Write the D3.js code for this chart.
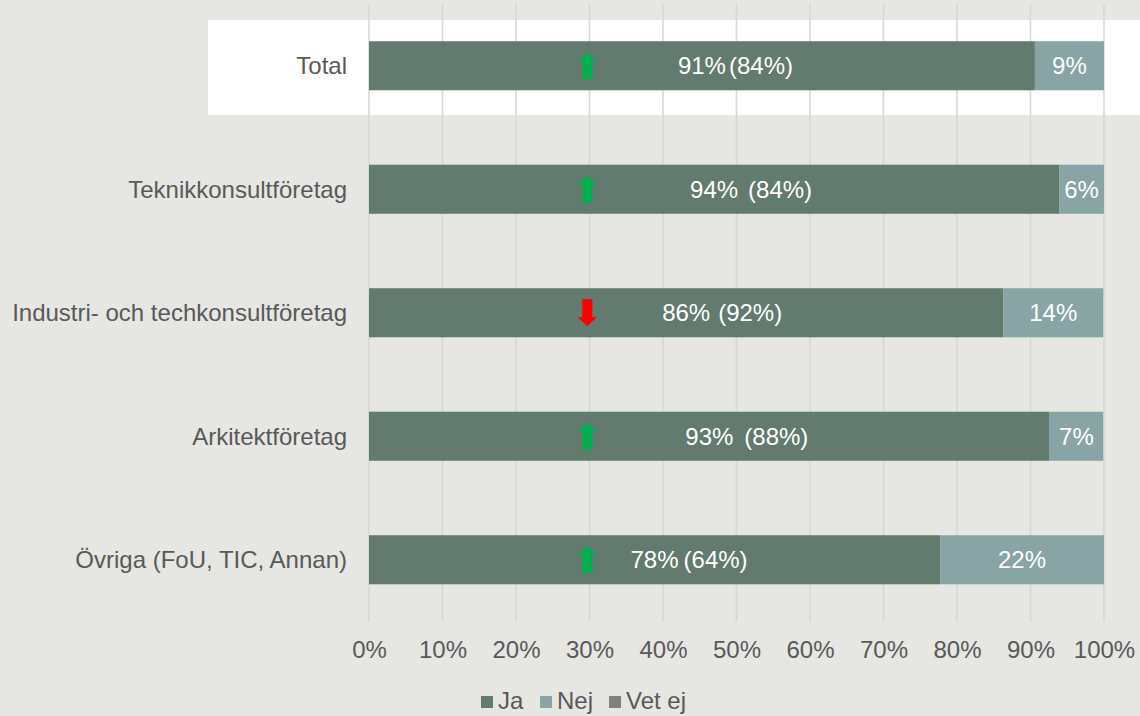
<!DOCTYPE html>
<html>
<head>
<meta charset="utf-8">
<script src="https://cdn.jsdelivr.net/npm/d3@7"></script>
<style>
  html, body { margin: 0; padding: 0; background: #e6e6e2; }
  svg { display: block; }
  text { font-family: "Liberation Sans", Arial, sans-serif; }
</style>
</head>
<body>
<svg id="chart" width="1140" height="716"></svg>
<script>
// ---- data ----
const categories = ["Total", "Teknikkonsultföretag", "Industri- och techkonsultföretag", "Arkitektföretag", "Övriga (FoU, TIC, Annan)"];
const seriesNames = ["Ja", "Nej", "Vet ej"];
const jaValues = [90.6, 93.9, 86.3, 92.6, 77.7];
const nejValues = [9.4, 6.1, 13.6, 7.3, 22.3];
const vetEjValues = [0, 0, 0, 0, 0];
const jaLabels = ["91%", "94%", "86%", "93%", "78%"];
const nejLabels = ["9%", "6%", "14%", "7%", "22%"];
const previousLabels = ["(84%)", "(84%)", "(92%)", "(88%)", "(64%)"];
const trend = ["up", "up", "down", "up", "up"];
const xTicks = [0, 10, 20, 30, 40, 50, 60, 70, 80, 90, 100];

// ---- layout ----
const colors = { "Ja": "#637a6f", "Nej": "#88a4a4", "Vet ej": "#808080" };
const textGrey = "#595959";
const fontSize = 24;
const prevGaps = [3, 10, 8, 11, 5];
const arrowAt = 29.7;

const svg = d3.select("#chart");
const x = d3.scaleLinear().domain([0, 100]).range([369, 1104]);
const y = d3.scaleBand().domain(categories).range([4, 621.5]).paddingInner(0.603).paddingOuter(0.3015);

// white highlight box behind Total row
svg.append("rect").attr("x", 208).attr("y", 20).attr("width", 932).attr("height", 95).attr("fill", "#ffffff");

// gridlines
svg.append("g").selectAll("line").data(xTicks).join("line")
  .attr("x1", d => x(d)).attr("x2", d => x(d))
  .attr("y1", 4).attr("y2", 621.5)
  .attr("stroke", "#d8d8d6").attr("stroke-width", 1.6);

// stacked data
const rows = categories.map((c, i) => ({ cat: c, "Ja": jaValues[i], "Nej": nejValues[i], "Vet ej": vetEjValues[i] }));
const stack = d3.stack().keys(seriesNames)(rows);

svg.append("g").selectAll("g").data(stack).join("g")
  .attr("fill", s => colors[s.key])
  .selectAll("rect").data(s => s).join("rect")
  .attr("x", d => x(d[0]))
  .attr("width", d => Math.max(0, x(d[1]) - x(d[0])))
  .attr("y", d => y(d.data.cat))
  .attr("height", y.bandwidth());

// x axis tick labels
const xAxis = d3.axisBottom(x).tickValues(xTicks).tickFormat(d => d + "%").tickSize(0).tickPadding(0);
const gx = svg.append("g").attr("transform", "translate(0,641)").call(xAxis);
gx.select(".domain").remove();
gx.selectAll("text").attr("fill", textGrey).attr("font-size", fontSize)
  .attr("font-family", '"Liberation Sans", Arial, sans-serif').attr("dy", "0.72em").attr("y", 0);

// y axis category labels
const yAxis = d3.axisLeft(y).tickSize(0).tickPadding(22);
const gy = svg.append("g").attr("transform", "translate(369,0)").call(yAxis);
gy.select(".domain").remove();
gy.selectAll("text").attr("fill", textGrey).attr("font-size", fontSize)
  .attr("font-family", '"Liberation Sans", Arial, sans-serif').attr("dy", "0.35em");

// labels in bars
const lab = svg.append("g").attr("font-size", fontSize).attr("fill", "#ffffff");
categories.forEach((c, i) => {
  const cy = y(c) + y.bandwidth() / 2;
  const jaMid = (x(0) + x(jaValues[i])) / 2;
  const t = lab.append("text").attr("x", jaMid).attr("y", cy).attr("dy", "0.35em")
    .attr("text-anchor", "middle").text(jaLabels[i]);
  const w = t.node().getComputedTextLength();
  lab.append("text").attr("x", jaMid + w / 2 + prevGaps[i]).attr("y", cy).attr("dy", "0.35em")
    .attr("text-anchor", "start").text(previousLabels[i]);
  const nejMid = (x(jaValues[i]) + x(jaValues[i] + nejValues[i])) / 2;
  lab.append("text").attr("x", nejMid).attr("y", cy).attr("dy", "0.35em")
    .attr("text-anchor", "middle").text(nejLabels[i]);

  // trend arrow
  const ax = x(arrowAt);
  const up = trend[i] === "up";
  const p = d3.path();
  const pts = [[-5, 13.5], [-5, -4.5], [-9.5, -4.5], [0, -13.5], [9.5, -4.5], [5, -4.5], [5, 13.5]];
  pts.forEach((pt, k) => {
    const px = ax + pt[0];
    const py = cy + (up ? pt[1] : -pt[1]);
    if (k === 0) p.moveTo(px, py); else p.lineTo(px, py);
  });
  p.closePath();
  svg.append("path").attr("d", p.toString()).attr("fill", up ? "#00b050" : "#ff0000");
});

// legend
const legendX = [481, 540, 609];
const lg = svg.append("g");
seriesNames.forEach((s, i) => {
  lg.append("rect").attr("x", legendX[i]).attr("y", 696).attr("width", 12).attr("height", 12).attr("fill", colors[s]);
  lg.append("text").attr("x", legendX[i] + 17).attr("y", 709).attr("font-size", fontSize)
    .attr("fill", textGrey).text(s);
});
</script>
</body>
</html>
